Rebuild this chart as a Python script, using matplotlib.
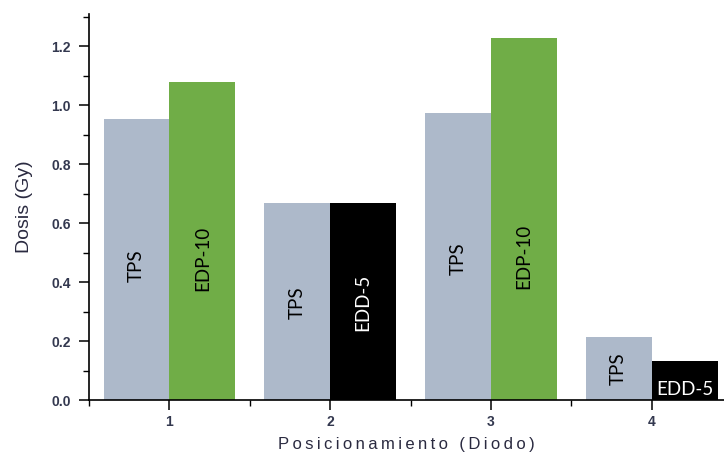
import matplotlib.pyplot as plt
from matplotlib.ticker import MultipleLocator

posiciones = [1, 2, 3, 4]
tps = [0.953, 0.668, 0.973, 0.214]
medido = [1.078, 0.668, 1.227, 0.132]
etiq_medido = ['EDP-10', 'EDD-5', 'EDP-10', 'EDD-5']
col_medido = ['#70AD47', '#000000', '#70AD47', '#000000']

w = 0.41
fig = plt.figure(figsize=(7.24, 4.61), dpi=100)
ax = fig.add_axes([0.123, 0.132, 0.877, 0.838])

x_tps = [p - w / 2 for p in posiciones]
x_med = [p + w / 2 for p in posiciones]
ax.bar(x_tps, tps, width=w, color='#ADB9CA')
ax.bar(x_med, medido, width=w, color=col_medido)

# etiquetas dentro de las barras
y_tps = [0.455, 0.332, 0.478, 0.105]
y_med = [0.48, 0.332, 0.488, 0.0]
for i in range(4):
    ax.text(x_tps[i], y_tps[i], 'TPS', rotation=90, ha='center', va='center',
            fontsize=13.5, family='Lato', color='black')
    c = 'white' if col_medido[i] == '#000000' else 'black'
    if i == 3:
        ax.text(x_med[i], 0.008, etiq_medido[i], ha='center', va='bottom',
                fontsize=13.5, family='Lato', color=c)
    else:
        ax.text(x_med[i], y_med[i], etiq_medido[i], rotation=90, ha='center',
                va='center', fontsize=13.5, family='Lato', color=c)

ax.set_xlim(0.5, 4.45)
ax.set_ylim(0, 1.31)
ax.set_xticks(posiciones)
ax.xaxis.set_minor_locator(MultipleLocator(0.5))
ax.yaxis.set_major_locator(MultipleLocator(0.2))
ax.yaxis.set_minor_locator(MultipleLocator(0.1))
ax.yaxis.set_major_formatter(plt.FormatStrFormatter('%.1f'))
ax.spines['top'].set_visible(False)
ax.spines['right'].set_visible(False)
ax.spines['left'].set_linewidth(1.2)
ax.spines['bottom'].set_linewidth(1.2)
ax.tick_params(which='major', length=7, width=1.1, labelsize=10,
               labelcolor='#33384f')
ax.tick_params(axis='y', which='major', pad=6)
ax.tick_params(which='minor', length=4, width=1.0)
for lab in ax.get_xticklabels() + ax.get_yticklabels():
    lab.set_fontweight('bold')
    lab.set_family('Liberation Sans')

fam = ['Liberation Sans', 'DejaVu Sans']
ax.set_ylabel('Dosis (Gy)', fontsize=14, color='#2a2a40', labelpad=13,
              family=fam)
xlab = '\u2009'.join('Posicionamiento (Diodo)')
ax.set_xlabel(xlab, fontsize=12, color='#2a2a40', labelpad=6, family=fam)

fig.savefig('out.png', dpi=100)
